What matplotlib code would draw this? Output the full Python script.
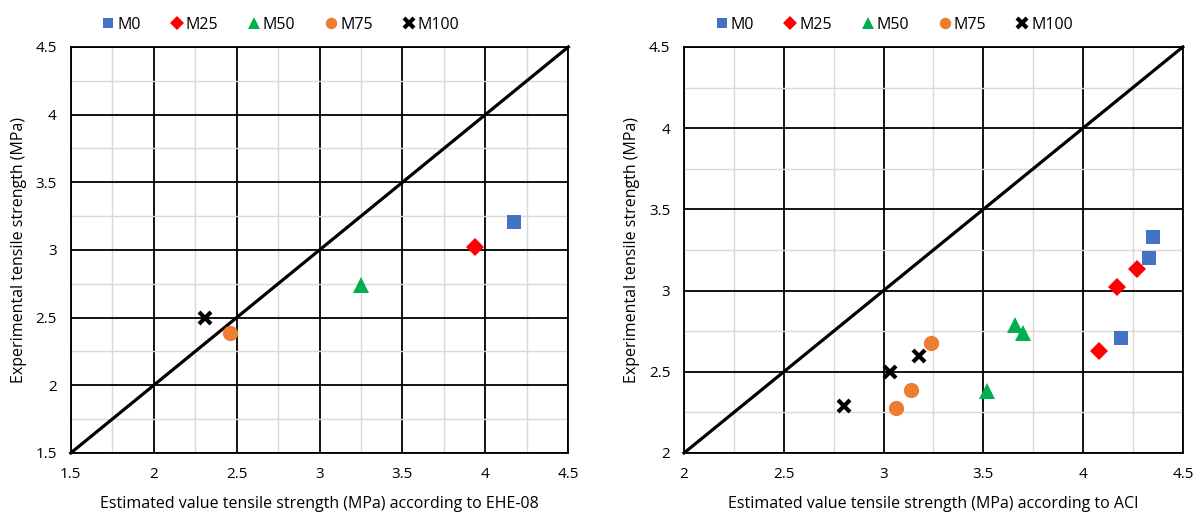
import matplotlib
matplotlib.use("Agg")
import matplotlib.pyplot as plt
from matplotlib.ticker import MultipleLocator, FuncFormatter

plt.rcParams['font.family'] = ['Open Sans', 'DejaVu Sans']

series = ["M0", "M25", "M50", "M75", "M100"]
colors = ["#4472C4", "#FF0000", "#00B050", "#ED7D31", "#000000"]
markers = ["s", "D", "^", "o", "x"]

# Left: EHE-08
ehe_x = {"M0": [4.17], "M25": [3.94], "M50": [3.25], "M75": [2.46], "M100": [2.31]}
ehe_y = {"M0": [3.21], "M25": [3.02], "M50": [2.74], "M75": [2.39], "M100": [2.50]}

# Right: ACI
aci_x = {"M0": [4.35, 4.33, 4.19], "M25": [4.27, 4.17, 4.08],
         "M50": [3.66, 3.70, 3.52], "M75": [3.24, 3.14, 3.06],
         "M100": [3.18, 3.03, 2.80]}
aci_y = {"M0": [3.33, 3.20, 2.71], "M25": [3.13, 3.02, 2.63],
         "M50": [2.79, 2.74, 2.38], "M75": [2.68, 2.39, 2.28],
         "M100": [2.60, 2.50, 2.29]}

fig = plt.figure(figsize=(11.99, 5.14), dpi=100)
ax1 = fig.add_axes([0.059, 0.1187, 0.415, 0.79])
ax2 = fig.add_axes([0.5705, 0.1187, 0.416, 0.79])

sizes = {"s": 10, "D": 9, "^": 11, "o": 11, "x": 9}

def setup(ax, lo, hi, xs, ys, xlabel):
    ax.set_xlim(lo, hi)
    ax.set_ylim(lo, hi)
    ax.xaxis.set_major_locator(MultipleLocator(0.5))
    ax.yaxis.set_major_locator(MultipleLocator(0.5))
    ax.xaxis.set_minor_locator(MultipleLocator(0.25))
    ax.yaxis.set_minor_locator(MultipleLocator(0.25))
    fmt = FuncFormatter(lambda v, p: "%g" % v)
    ax.xaxis.set_major_formatter(fmt)
    ax.yaxis.set_major_formatter(fmt)
    ax.grid(which="minor", color="#d9d9d9", lw=1.0, zorder=0)
    ax.grid(which="major", color="black", lw=1.3, zorder=1)
    ax.tick_params(which="both", length=0, labelsize=11, pad=10)
    for s in ax.spines.values():
        s.set_linewidth(1.3)
    ax.set_axisbelow(True)
    ax.plot([lo, hi], [lo, hi], color="black", lw=2.3, zorder=3, clip_on=False)
    for name, c, m in zip(series, colors, markers):
        ax.plot(xs[name], ys[name], linestyle="none", marker=m, color=c,
                markersize=sizes[m], markeredgewidth=3 if m == "x" else 0,
                label=name, zorder=4)
    ax.set_xlabel(xlabel, fontsize=11.5, labelpad=10)
    ax.set_ylabel("Experimental tensile strength (MPa)", fontsize=11.5, labelpad=6)
    ax.legend(loc="lower center", bbox_to_anchor=(0.42, 1.0), ncol=5,
              frameon=False, fontsize=11.5, markerscale=0.75,
              handletextpad=0.05, columnspacing=1.75, handlelength=1.0)

setup(ax1, 1.5, 4.5, ehe_x, ehe_y,
      "Estimated value tensile strength (MPa) according to EHE-08")
setup(ax2, 2.0, 4.5, aci_x, aci_y,
      "Estimated value tensile strength (MPa) according to ACI")

fig.savefig("out.png", dpi=100)
